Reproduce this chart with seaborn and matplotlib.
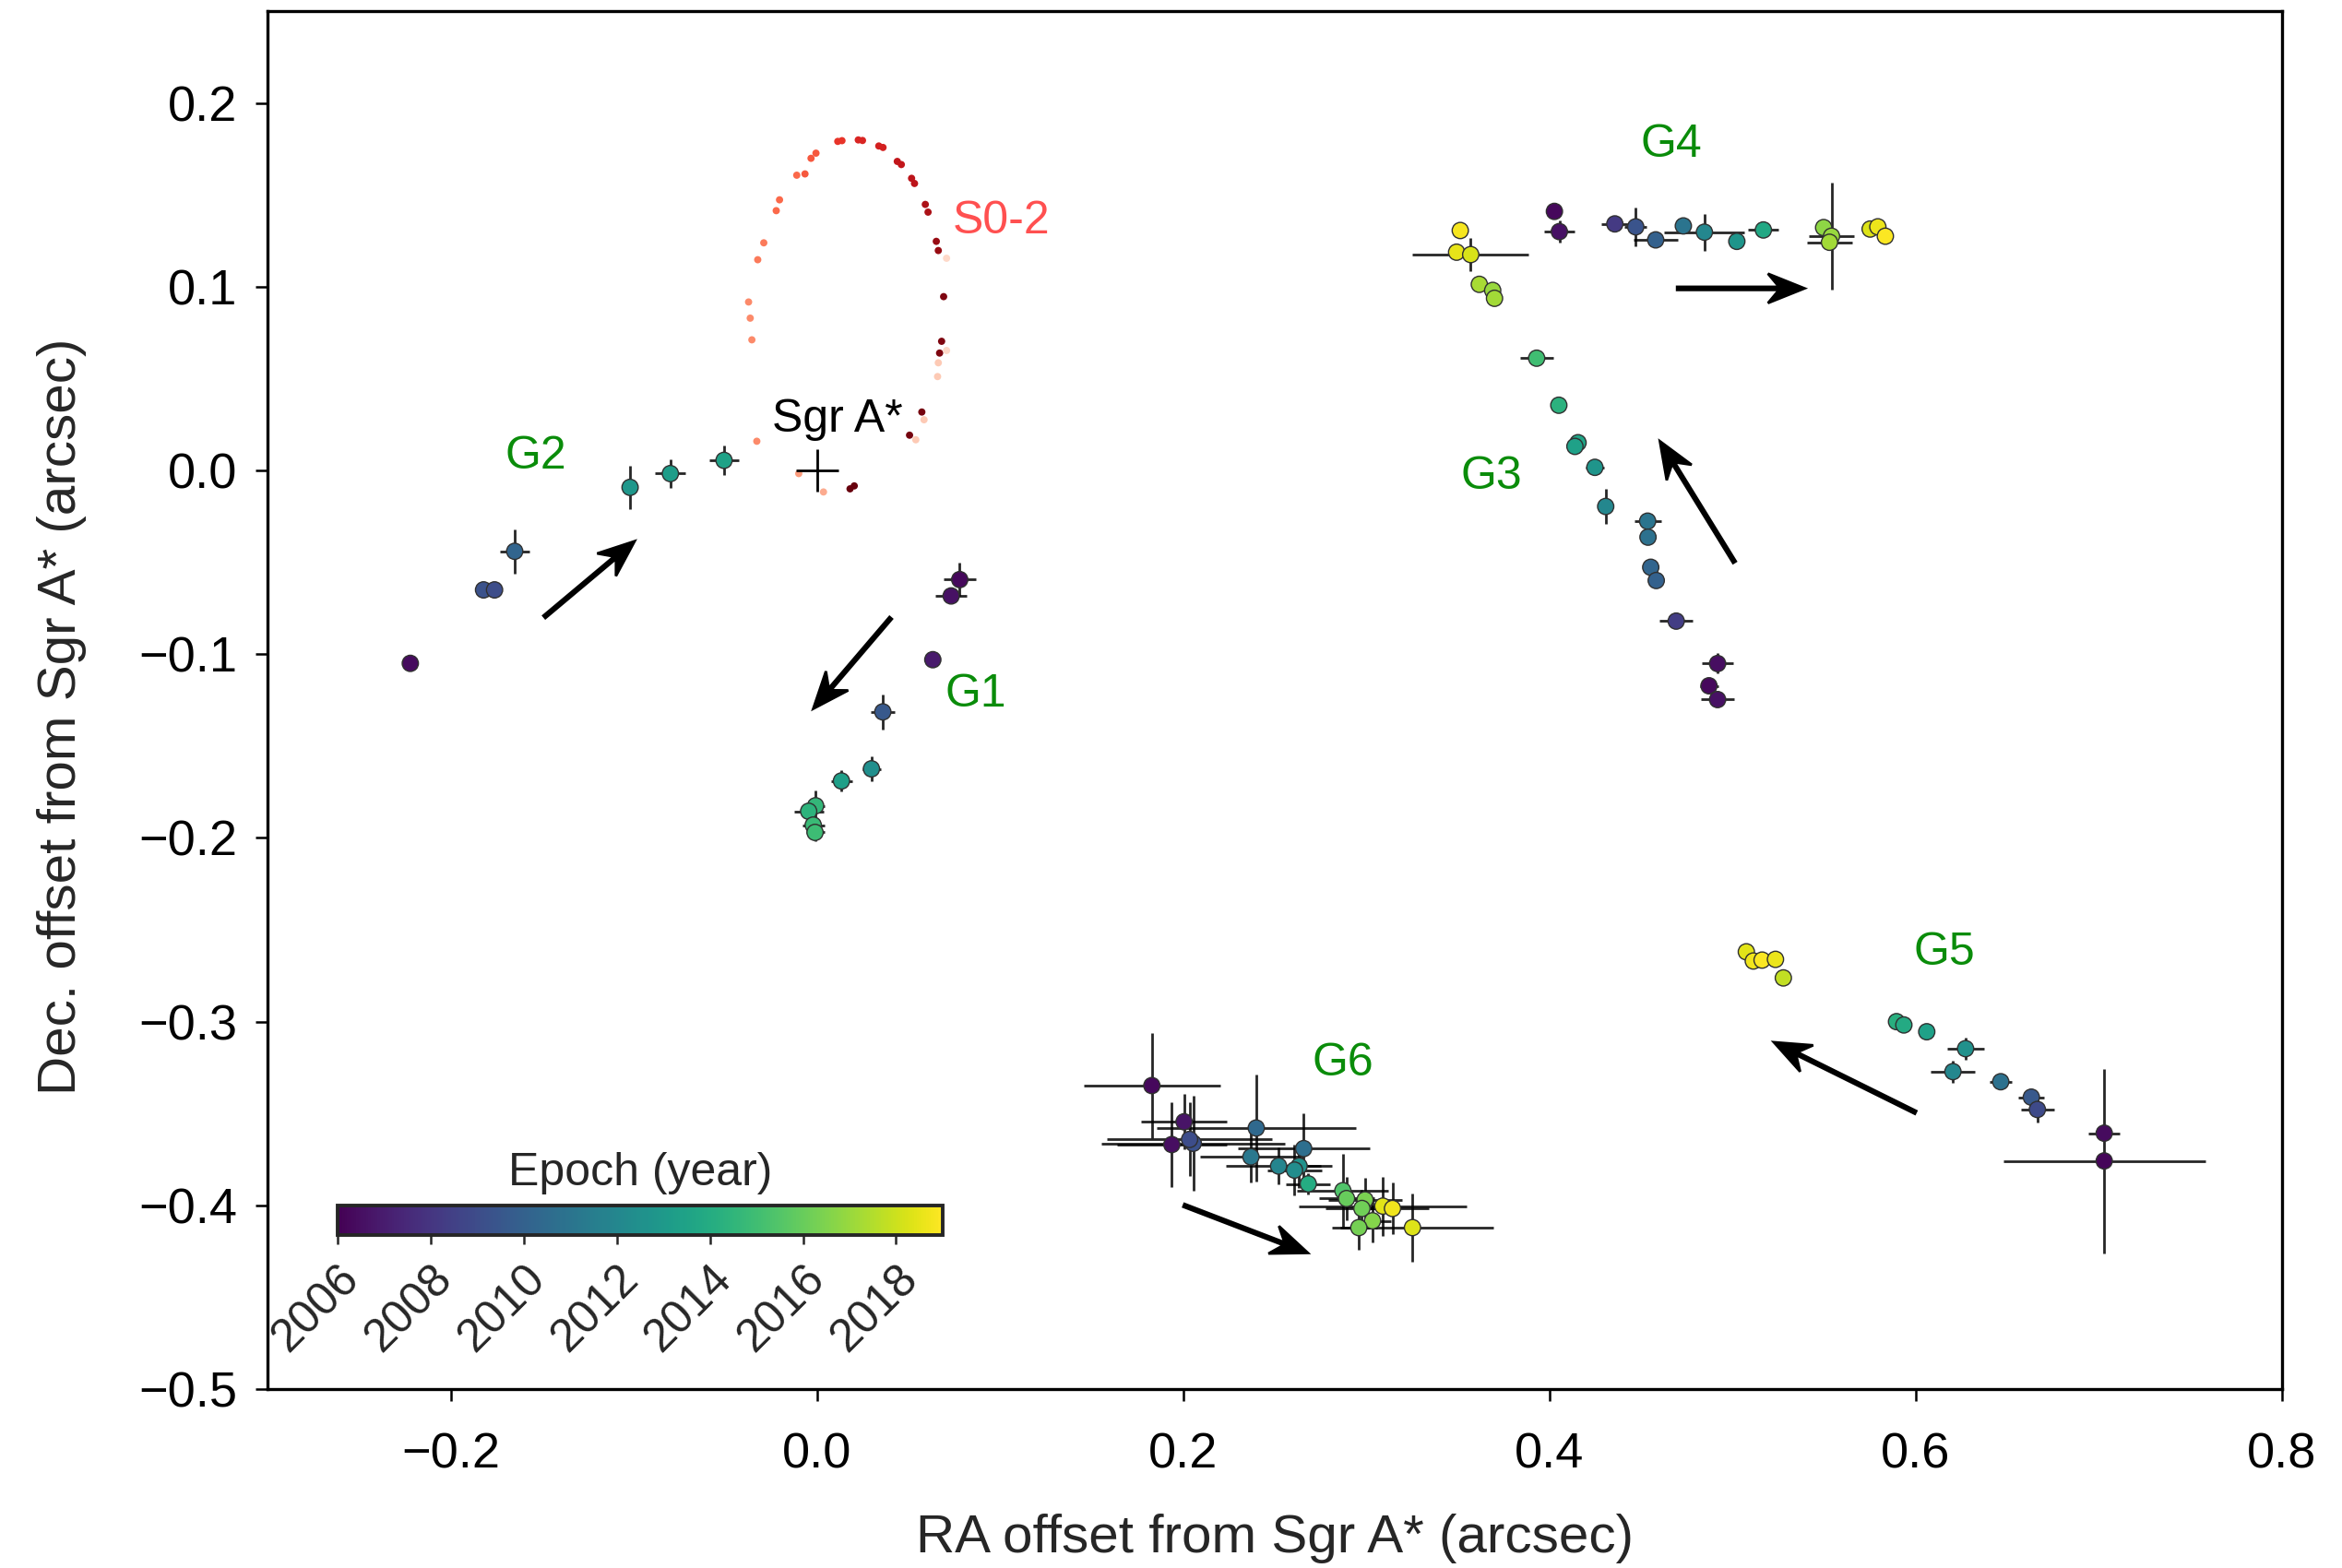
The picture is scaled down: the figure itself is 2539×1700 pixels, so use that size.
import numpy as np
import pandas as pd
import matplotlib
matplotlib.use("Agg")
import matplotlib.pyplot as plt
import matplotlib.cm as cm
from matplotlib.colors import Normalize
from matplotlib.ticker import FuncFormatter
import seaborn as sns

# ---------------- data ----------------
# G1
g1_ra = [0.078, 0.0733, 0.0633, 0.036, 0.0298, 0.0134, -0.0007, -0.0045, -0.002, -0.001]
g1_dec = [-0.0594, -0.0683, -0.103, -0.1314, -0.1624, -0.169, -0.1825, -0.1855, -0.193, -0.197]
g1_ra_err = [0.009, 0.0084, 0.0, 0.0064, 0.005, 0.0058, 0.005, 0.008, 0.006, 0.005]
g1_dec_err = [0.009, 0.003, 0.0, 0.0094, 0.0067, 0.0058, 0.0084, 0.005, 0.006, 0.005]
g1_epoch = [2006.3, 2006.6, 2006.9, 2009.6, 2012.4, 2013.3, 2014.6, 2014.4, 2014.8, 2014.9]

# G2
g2_ra = [-0.222, -0.182, -0.176, -0.165, -0.102, -0.080, -0.0507]
g2_dec = [-0.105, -0.065, -0.065, -0.044, -0.0092, -0.0017, 0.0055]
g2_ra_err = [0.0, 0.0, 0.0, 0.008, 0.0, 0.0084, 0.008]
g2_dec_err = [0.0, 0.0, 0.0, 0.012, 0.0117, 0.0079, 0.008]
g2_epoch = [2006.4, 2009.3, 2009.0, 2010.2, 2012.9, 2013.2, 2013.5]

# G3
g3_ra = [0.3513, 0.3493, 0.357, 0.3617, 0.369, 0.370, 0.393, 0.4051, 0.4156, 0.4139,
         0.4248, 0.4307, 0.4536, 0.4538, 0.4553, 0.4583, 0.4692, 0.4918, 0.4871, 0.4918]
g3_dec = [0.1306, 0.1188, 0.1175, 0.1013, 0.098, 0.0937, 0.0611, 0.0355, 0.0151, 0.0131,
          0.0017, -0.0196, -0.0276, -0.0363, -0.0527, -0.0599, -0.082, -0.1051, -0.1172, -0.1247]
g3_ra_err = [0, 0, 0.0317, 0, 0, 0.004, 0.0092, 0, 0, 0,
             0.0052, 0, 0.0074, 0, 0, 0, 0.009, 0.0084, 0.005, 0.0089]
g3_dec_err = [0, 0, 0.0092, 0, 0, 0, 0, 0, 0, 0,
              0, 0.0094, 0, 0, 0, 0, 0, 0.0055, 0.003, 0.003]
g3_epoch = [2018.8, 2018.5, 2018.2, 2017.3, 2017.0, 2017.2, 2015.0, 2014.3, 2013.6, 2013.4,
            2012.8, 2012.0, 2011.0, 2010.8, 2010.2, 2010.0, 2008.3, 2006.5, 2006.3, 2006.6]

# G4
g4_ra = [0.4027, 0.4054, 0.4357, 0.4471, 0.458, 0.4731, 0.4846, 0.5023, 0.5168,
         0.5497, 0.554, 0.5529, 0.5751, 0.5793, 0.5834]
g4_dec = [0.141, 0.130, 0.1342, 0.1326, 0.1255, 0.1331, 0.1297, 0.1247, 0.1309,
          0.1322, 0.1275, 0.1242, 0.1314, 0.1326, 0.1275]
g4_ra_err = [0, 0.0083, 0.0073, 0.006, 0.0119, 0, 0.0219, 0, 0.0083,
             0, 0.0125, 0.0125, 0.005, 0, 0]
g4_dec_err = [0, 0.0059, 0, 0.0104, 0.004, 0, 0.010, 0, 0,
              0, 0.029, 0.003, 0, 0, 0]
g4_epoch = [2006.3, 2006.6, 2008.2, 2009.4, 2010.0, 2011.0, 2012.0, 2012.8, 2013.8,
            2016.8, 2017.0, 2017.2, 2018.3, 2018.6, 2018.9]

# G5
g5_ra = [0.5075, 0.5113, 0.5161, 0.5234, 0.5277, 0.5895, 0.5935, 0.606, 0.6272, 0.6203,
         0.6464, 0.6631, 0.6664, 0.7029, 0.7029]
g5_dec = [-0.262, -0.267, -0.2665, -0.2661, -0.2762, -0.300, -0.3018, -0.3055, -0.3147, -0.3272,
          -0.3327, -0.3411, -0.3478, -0.3607, -0.3758]
g5_ra_err = [0.003, 0, 0, 0, 0, 0, 0, 0, 0.010, 0.0122, 0.006, 0.007, 0.009, 0.0085, 0.0552]
g5_dec_err = [0, 0, 0, 0, 0, 0, 0, 0, 0.006, 0.006, 0.003, 0.004, 0.007, 0.003, 0.0502]
g5_epoch = [2018.4, 2018.7, 2018.9, 2018.6, 2017.8, 2014.2, 2013.9, 2013.4, 2012.5, 2012.0,
            2010.8, 2009.6, 2008.9, 2006.4, 2006.2]

# G6
g6_ra = [0.1829, 0.2005, 0.1938, 0.2055, 0.2035, 0.2399, 0.237, 0.2658, 0.2521, 0.2633,
         0.2608, 0.2683, 0.2872, 0.2892, 0.2993, 0.2976, 0.3034, 0.2959, 0.309, 0.3143, 0.3252]
g6_dec = [-0.3348, -0.3545, -0.3669, -0.3662, -0.3641, -0.3579, -0.3736, -0.3691, -0.3786, -0.3786,
          -0.3808, -0.3883, -0.392, -0.3963, -0.397, -0.4017, -0.4084, -0.4121, -0.4004, -0.4017, -0.4121]
g6_ra_err = [0.0372, 0.0234, 0.03, 0.05, 0.045, 0.0544, 0.028, 0.036, 0.029, 0.012,
             0.015, 0.012, 0.025, 0.015, 0.02, 0.02, 0.01, 0.01, 0.046, 0.02, 0.044]
g6_dec_err = [0.0285, 0.015, 0.023, 0.026, 0.02, 0.0293, 0.014, 0.019, 0.01, 0.012,
              0.014, 0.006, 0.02, 0.012, 0.012, 0.01, 0.012, 0.012, 0.016, 0.014, 0.0184]
g6_epoch = [2006.3, 2006.7, 2006.5, 2009.2, 2009.0, 2010.4, 2011.2, 2010.7, 2011.9, 2012.6,
            2012.3, 2014.0, 2015.4, 2016.0, 2016.4, 2016.2, 2016.6, 2016.3, 2018.4, 2018.7, 2018.3]

# S0-2 orbit points (shade = relative epoch, light -> dark)
s02_ra = [-0.0328, -0.0355, -0.0364, -0.0373, -0.0323, -0.029, -0.0222, -0.0204, -0.011, -0.0065,
          -0.0032, -0.0005, 0.0114, 0.0137, 0.0226, 0.0249, 0.0338, 0.0361, 0.0439, 0.0461,
          0.0517, 0.0533, 0.0592, 0.0607, 0.0652, 0.0663, 0.0708, 0.0692, 0.0681, 0.067,
          0.0708, 0.0663, 0.0659, 0.0573, 0.0585, 0.0506, 0.054, 0.0204, 0.0181, -0.0099, 0.0036]
s02_dec = [0.0159, 0.0711, 0.0829, 0.0917, 0.1147, 0.1239, 0.1414, 0.1473, 0.1607, 0.1614,
           0.1699, 0.1727, 0.1791, 0.1795, 0.1799, 0.1796, 0.1766, 0.1758, 0.1682, 0.1665,
           0.159, 0.1562, 0.1448, 0.1406, 0.1247, 0.1197, 0.1155, 0.0946, 0.0703, 0.0639,
           0.0653, 0.0586, 0.0511, 0.0318, 0.0276, 0.0192, 0.0167, -0.0084, -0.010, -0.0017, -0.0117]
s02_shade = [0.4, 0.4, 0.4, 0.4, 0.45, 0.45, 0.5, 0.5, 0.5, 0.55,
             0.55, 0.55, 0.65, 0.65, 0.7, 0.7, 0.72, 0.72, 0.78, 0.78,
             0.8, 0.8, 0.85, 0.85, 0.9, 0.9, 0.15, 0.95, 0.95, 0.95,
             0.15, 0.2, 0.2, 0.97, 0.2, 0.97, 0.2, 1.0, 1.0, 0.35, 0.3]

# Sgr A*
sgr_ra = [0.0]
sgr_dec = [0.0]

# labels
label_names = ["G1", "G2", "G3", "G4", "G5", "G6"]
label_x = [0.0867, -0.1537, 0.3684, 0.4665, 0.6156, 0.2873]
label_y = [-0.1218, 0.0078, -0.0034, 0.1774, -0.2627, -0.3229]

# motion arrows (tail -> tip)
arrow_tail_x = [0.0403, -0.1488, 0.501, 0.4697, 0.5999, 0.2004]
arrow_tail_y = [-0.0803, -0.0797, -0.0499, 0.0991, -0.3494, -0.400]
arrow_tip_x = [-0.002, -0.0995, 0.4603, 0.5393, 0.5225, 0.2681]
arrow_tip_y = [-0.1297, -0.0385, 0.0159, 0.0991, -0.3112, -0.4259]

epoch_ticks = [2006, 2008, 2010, 2012, 2014, 2016, 2018]
epoch_range = (2006, 2019)

# ---------------- build table ----------------
groups = {
    "G1": (g1_ra, g1_dec, g1_ra_err, g1_dec_err, g1_epoch),
    "G2": (g2_ra, g2_dec, g2_ra_err, g2_dec_err, g2_epoch),
    "G3": (g3_ra, g3_dec, g3_ra_err, g3_dec_err, g3_epoch),
    "G4": (g4_ra, g4_dec, g4_ra_err, g4_dec_err, g4_epoch),
    "G5": (g5_ra, g5_dec, g5_ra_err, g5_dec_err, g5_epoch),
    "G6": (g6_ra, g6_dec, g6_ra_err, g6_dec_err, g6_epoch),
}
frames = []
for name, (ra, dec, rae, dece, ep) in groups.items():
    frames.append(pd.DataFrame({"object": name, "ra": ra, "dec": dec,
                                "ra_err": rae, "dec_err": dece, "epoch": ep}))
df = pd.concat(frames, ignore_index=True)
s02 = pd.DataFrame({"ra": s02_ra, "dec": s02_dec, "shade": s02_shade})

# ---------------- plot ----------------
sns.set_style("ticks")
plt.rcParams['font.family'] = ['Liberation Sans', 'DejaVu Sans']
plt.rcParams['axes.unicode_minus'] = True

fig = plt.figure(figsize=(12.695, 8.5), dpi=200)
ax = fig.add_axes([0.1142, 0.1141, 0.8602, 0.8788])

# S0-2 orbit
sns.scatterplot(data=s02, x="ra", y="dec", hue="shade", palette="Reds", hue_norm=(0, 1),
                s=8, linewidth=0, legend=False, ax=ax, zorder=2)

# error bars
ax.errorbar(df["ra"], df["dec"], xerr=df["ra_err"], yerr=df["dec_err"], fmt="none",
            ecolor="black", elinewidth=1.0, capsize=0, alpha=0.85, zorder=2)

# gas clouds coloured by epoch
sns.scatterplot(data=df, x="ra", y="dec", hue="epoch", palette="viridis",
                hue_norm=epoch_range, s=40, edgecolor="#303030", linewidth=0.5,
                legend=False, ax=ax, zorder=3)

# Sgr A*
ax.plot(sgr_ra, sgr_dec, marker="+", ms=16.5, mew=1.0, color="black", linestyle="none", zorder=4)
ax.text(0.0114, 0.0276, "Sgr A*", fontsize=18, ha="center", va="center", color="black")
ax.text(0.1008, 0.1358, "S0-2", fontsize=18, ha="center", va="center", color="#ff5050")

for name, lx, ly in zip(label_names, label_x, label_y):
    ax.text(lx, ly, name, fontsize=18, ha="center", va="center", color="#0a8c0a")

for tx, ty, hx, hy in zip(arrow_tail_x, arrow_tail_y, arrow_tip_x, arrow_tip_y):
    ax.arrow(tx, ty, hx - tx, hy - ty, width=0.0017, head_width=0.016, head_length=0.02,
             overhang=0.3, length_includes_head=True, fc="black", ec="black", zorder=4)

minus_fmt = FuncFormatter(lambda v, p: ("%.1f" % v).replace("-", "\u2212") if abs(v) > 1e-9 else "0.0")

ax.set_xlim(-0.3, 0.8)
ax.set_ylim(-0.5, 0.25)
ax.set_xticks([-0.2, 0.0, 0.2, 0.4, 0.6, 0.8])
ax.set_yticks([-0.5, -0.4, -0.3, -0.2, -0.1, 0.0, 0.1, 0.2])
ax.xaxis.set_major_formatter(minus_fmt)
ax.yaxis.set_major_formatter(minus_fmt)
ax.tick_params(axis="both", direction="out", length=4.7, width=0.9, labelsize=19.5,
               top=False, right=False, color="black", labelcolor="black")
ax.tick_params(axis="x", pad=12)
ax.tick_params(axis="y", pad=7)
for sp in ax.spines.values():
    sp.set_visible(True)
    sp.set_linewidth(1.2)
    sp.set_color("black")

ax.set_xlabel("RA offset from Sgr A* (arcsec)", fontsize=21)
ax.set_ylabel("Dec. offset from Sgr A* (arcsec)", fontsize=21)
ax.xaxis.set_label_coords(0.5, -0.1084)
ax.yaxis.set_label_coords(-0.1021, 0.488)
ax.xaxis.label.set_va("center")
ax.yaxis.label.set_va("center")

# colorbar
cax = fig.add_axes([0.1441, 0.2124, 0.2584, 0.0188])
sm = cm.ScalarMappable(norm=Normalize(*epoch_range), cmap="viridis")
cb = fig.colorbar(sm, cax=cax, orientation="horizontal")
cb.set_ticks(epoch_ticks)
cb.outline.set_linewidth(1.4)
cb.ax.tick_params(length=3.6, width=0.9, labelsize=18, pad=5)
for lab in cb.ax.get_xticklabels():
    lab.set_rotation(45)
    lab.set_ha("right")
    lab.set_va("top")
    lab.set_rotation_mode("anchor")
cb.ax.set_title("Epoch (year)", fontsize=18, pad=8)

fig.savefig("out.png", dpi=200)
